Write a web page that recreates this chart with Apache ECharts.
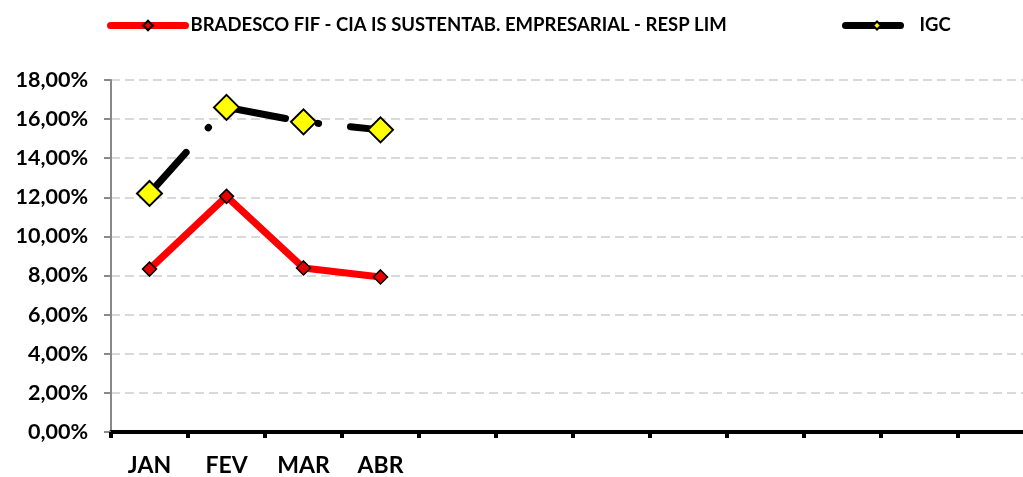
<!DOCTYPE html>
<html>
<head>
<meta charset="utf-8">
<script src="https://cdn.jsdelivr.net/npm/echarts@6/dist/echarts.min.js"></script>
<style>
    html, body { margin: 0; padding: 0; background: #fff; overflow: hidden; }
    /* plot area runs past the right edge of the window, as in the original */
    #chart { width: 1040px; height: 477px; }
</style>
</head>
<body>
<div id="chart"></div>
<script>
// months on the axis (only the first four have data)
var months = ['JAN', 'FEV', 'MAR', 'ABR', '', '', '', '', '', '', '', ''];
var yTicks = [0, 2, 4, 6, 8, 10, 12, 14, 16, 18];

var fundName = 'BRADESCO FIF - CIA IS SUSTENTAB. EMPRESARIAL - RESP LIM';
var fundValues = [8.33, 12.05, 8.39, 7.93];

var benchName = 'IGC';
var benchValues = [12.2, 16.6, 15.86, 15.45];

var font = 'Lato, "Open Sans", sans-serif';

function pct(v) {
    return v.toFixed(2).replace('.', ',') + '%';
}

var legendText = { fontFamily: font, fontWeight: 'bold', fontSize: 18.5, color: '#000' };

var chart = echarts.init(document.getElementById('chart'));

chart.setOption({
    backgroundColor: '#fff',
    animation: false,
    textStyle: { fontFamily: font },
    legend: [{
        data: [fundName],
        left: 102,
        top: 11,
        itemWidth: 75,
        itemHeight: 12,
        lineStyle: { width: 7, cap: 'round' },
        textStyle: legendText
    }, {
        data: [benchName],
        left: 837,
        top: 11,
        itemWidth: 63,
        itemHeight: 10,
        lineStyle: { width: 7, cap: 'round' },
        textStyle: Object.assign({ padding: [0, 0, 0, 6] }, legendText)
    }],
    grid: {
        left: 111,
        top: 80,
        width: 924,
        height: 354,
        containLabel: false
    },
    xAxis: {
        type: 'category',
        data: months,
        boundaryGap: true,
        axisLine: { lineStyle: { color: '#000', width: 4 } },
        axisTick: { show: true, length: 6, lineStyle: { color: '#000', width: 4 } },
        axisLabel: {
            margin: 22,
            fontFamily: font,
            fontWeight: 'bold',
            fontSize: 23,
            color: '#000'
        },
        splitLine: { show: false }
    },
    yAxis: {
        type: 'value',
        min: yTicks[0],
        max: yTicks[yTicks.length - 1],
        interval: 2,
        axisLine: { show: true, lineStyle: { color: '#898989', width: 2 } },
        axisTick: { show: true, length: 7, lineStyle: { color: '#898989', width: 2 } },
        axisLabel: {
            margin: 23,
            fontFamily: font,
            fontWeight: 'bold',
            fontSize: 21.5,
            color: '#000',
            formatter: pct
        },
        splitLine: { show: true, lineStyle: { color: '#d9d9d9', width: 2, type: [9, 5] } }
    },
    series: [{
        name: fundName,
        type: 'line',
        data: fundValues,
        symbol: 'diamond',
        symbolSize: 14,
        lineStyle: { color: '#ff0000', width: 7, cap: 'round', join: 'round' },
        itemStyle: { color: '#e60000', borderColor: '#000', borderWidth: 1.5 },
        z: 3
    }, {
        name: benchName,
        type: 'line',
        data: benchValues,
        symbol: 'diamond',
        symbolSize: 25,
        // Excel long-dash-dot at a heavy width leaves these gaps
        lineStyle: { color: '#000', width: 7, cap: 'round', join: 'round', type: [55, 33, 0.5, 32] },
        itemStyle: { color: '#ffff00', borderColor: '#000', borderWidth: 2 },
        z: 4
    }]
});
</script>
</body>
</html>
